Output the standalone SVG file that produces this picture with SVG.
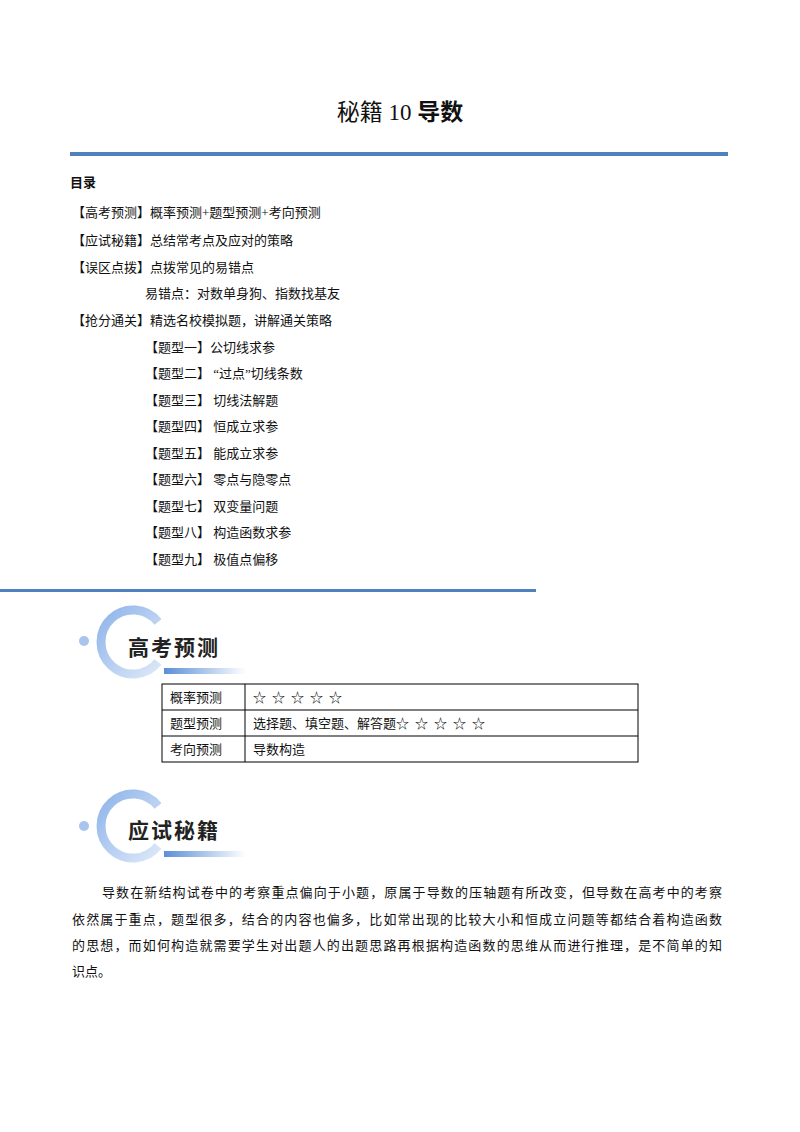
<svg xmlns="http://www.w3.org/2000/svg" width="800" height="1132" viewBox="0 0 800 1132">
<style>
text{font-family:"Liberation Serif","Noto Sans CJK SC",serif;font-size:13px;fill:#111}
.h{font-family:"Noto Sans CJK SC",sans-serif;font-weight:bold;font-size:21px;letter-spacing:2px;fill:#222}
.c{fill:none;stroke:#000;stroke-width:1}
.s{letter-spacing:6px}
</style>
<defs>
<linearGradient id="bar" x1="0" x2="1"><stop offset="0" stop-color="#5b8fd6"/><stop offset="1" stop-color="#5b8fd6" stop-opacity="0"/></linearGradient>
<linearGradient id="arc" x1="0" y1="0" x2="1" y2="1"><stop offset="0" stop-color="#8fb4ea"/><stop offset="1" stop-color="#dce8f8"/></linearGradient>
</defs>
<rect width="800" height="1132" fill="#fff"/>
<text x="400" y="120" text-anchor="middle" style="font-size:23px">秘籍 10 <tspan style="font-family:'Noto Sans CJK SC',sans-serif;font-weight:bold">导数</tspan></text>
<rect x="70" y="152" width="658" height="4" fill="#4f81bd"/>
<text x="70" y="187" style="font-family:'Noto Sans CJK SC',sans-serif;font-weight:bold">目录</text>
<text x="72" y="217">【高考预测】概率预测+题型预测+考向预测</text>
<text x="72" y="245">【应试秘籍】总结常考点及应对的策略</text>
<text x="72" y="272">【误区点拨】点拨常见的易错点</text>
<text x="145" y="298">易错点：对数单身狗、指数找基友</text>
<text x="72" y="325">【抢分通关】精选名校模拟题，讲解通关策略</text>
<text x="145" y="352">【题型一】公切线求参</text>
<text x="145" y="378">【题型二】 “过点”切线条数</text>
<text x="145" y="405">【题型三】 切线法解题</text>
<text x="145" y="431">【题型四】 恒成立求参</text>
<text x="145" y="458">【题型五】 能成立求参</text>
<text x="145" y="484">【题型六】 零点与隐零点</text>
<text x="145" y="511">【题型七】 双变量问题</text>
<text x="145" y="537">【题型八】 构造函数求参</text>
<text x="145" y="564">【题型九】 极值点偏移</text>
<rect x="0" y="589" width="536" height="3" fill="#4f81bd"/>
<g id="banner1">
<path d="M158 622 A32 32 0 1 0 158 662" fill="none" stroke="url(#arc)" stroke-width="9"/>
<circle cx="84" cy="641" r="5" fill="#a9c4ee"/>
<text x="128" y="655" class="h">高考预测</text>
<rect x="164" y="668" width="82" height="6" fill="url(#bar)"/>
</g>
<g id="table">
<rect x="162" y="684" width="476" height="78" class="c"/>
<line x1="162" y1="710" x2="638" y2="710" class="c"/>
<line x1="162" y1="736" x2="638" y2="736" class="c"/>
<line x1="245" y1="684" x2="245" y2="762" class="c"/>
<text x="170" y="702">概率预测</text><text x="253" y="702" class="s">☆☆☆☆☆</text>
<text x="170" y="728">题型预测</text><text x="253" y="728">选择题、填空题、解答题<tspan class="s">☆☆☆☆☆</tspan></text>
<text x="170" y="754">考向预测</text><text x="253" y="754">导数构造</text>
</g>
<g id="banner2">
<path d="M158 806 A32 32 0 1 0 158 846" fill="none" stroke="url(#arc)" stroke-width="9"/>
<circle cx="84" cy="826" r="5" fill="#a9c4ee"/>
<text x="128" y="838" class="h">应试秘籍</text>
<rect x="164" y="851" width="82" height="6" fill="url(#bar)"/>
</g>
<text x="102" y="897" textLength="620">导数在新结构试卷中的考察重点偏向于小题，原属于导数的压轴题有所改变，但导数在高考中的考察</text>
<text x="72" y="924" textLength="650">依然属于重点，题型很多，结合的内容也偏多，比如常出现的比较大小和恒成立问题等都结合着构造函数</text>
<text x="72" y="950" textLength="650">的思想，而如何构造就需要学生对出题人的出题思路再根据构造函数的思维从而进行推理，是不简单的知</text>
<text x="72" y="976">识点。</text>
</svg>
